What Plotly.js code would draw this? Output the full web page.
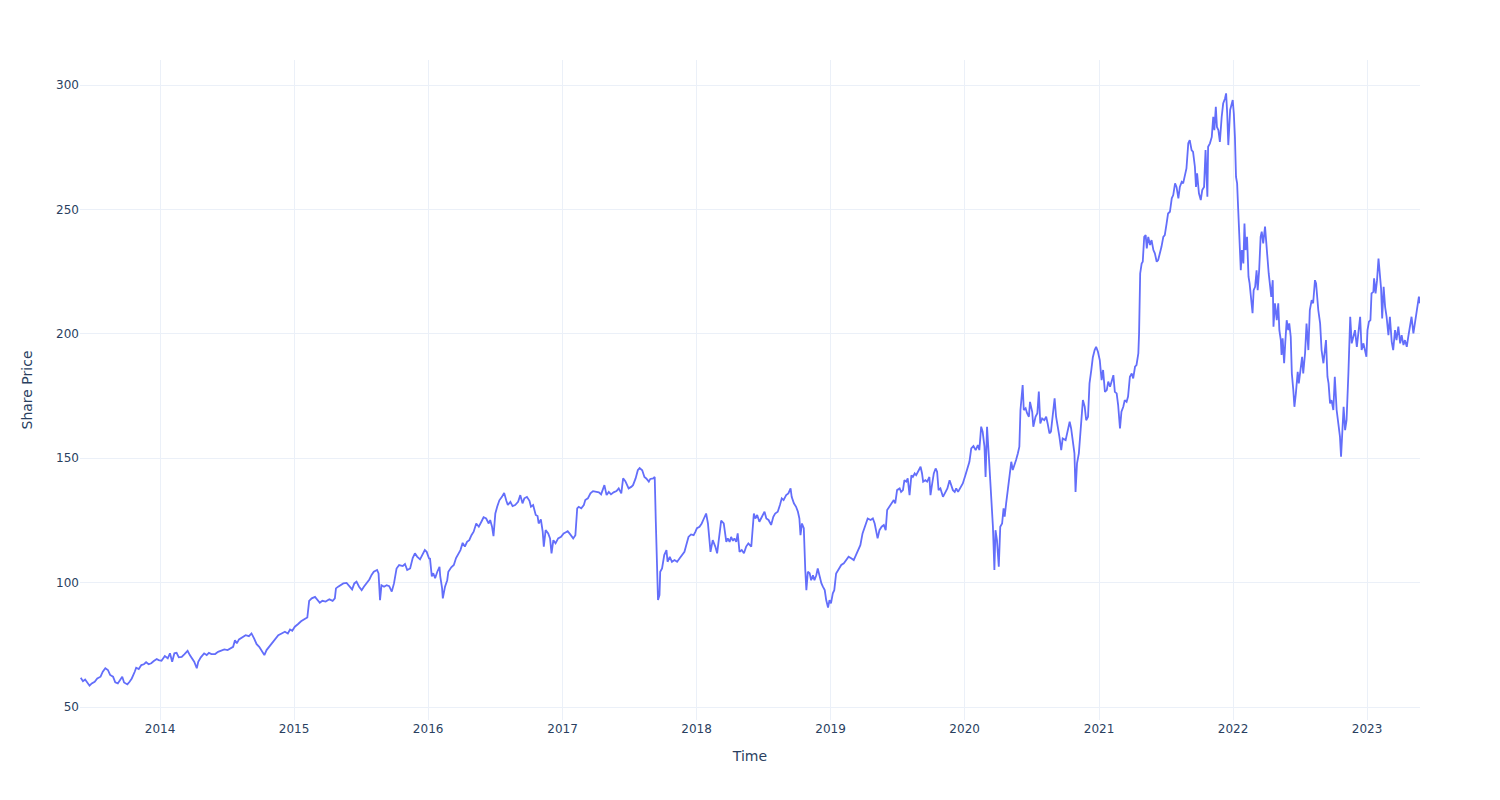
<!DOCTYPE html>
<html>
<head>
<meta charset="utf-8">
<script src="https://cdn.plot.ly/plotly-3.0.1.min.js"></script>
<style>html,body{margin:0;padding:0;background:#fff;}#chart{width:1500px;height:800px;}</style>
</head>
<body>
<div id="chart"></div>
<script>
const dates = [
"2013-05-30","2013-06-05","2013-06-11","2013-06-17","2013-06-23","2013-06-29","2013-07-07","2013-07-14","2013-07-23","2013-07-29",
"2013-08-05","2013-08-12","2013-08-18","2013-08-26","2013-09-01","2013-09-08","2013-09-16","2013-09-20","2013-09-25","2013-10-04",
"2013-10-10","2013-10-16","2013-10-24","2013-10-28","2013-11-04","2013-11-11","2013-11-18","2013-11-24","2013-12-01","2013-12-08",
"2013-12-15","2013-12-23","2013-12-28",
"2014-01-05","2014-01-14","2014-01-22","2014-01-28","2014-02-03","2014-02-09","2014-02-15","2014-02-21","2014-03-01","2014-03-08",
"2014-03-17","2014-03-23","2014-03-30","2014-04-04","2014-04-11","2014-04-15","2014-04-22","2014-05-01","2014-05-08","2014-05-14",
"2014-05-21","2014-05-31","2014-06-08","2014-06-16","2014-06-25","2014-07-04","2014-07-13","2014-07-19","2014-07-24","2014-07-29",
"2014-08-04","2014-08-13","2014-08-22","2014-08-31","2014-09-07","2014-09-14","2014-09-21","2014-09-28","2014-10-05","2014-10-12",
"2014-10-18","2014-10-25","2014-11-01","2014-11-10","2014-11-19","2014-11-28","2014-12-07","2014-12-15","2014-12-21","2014-12-27",
"2015-01-03","2015-01-12","2015-01-20","2015-01-31","2015-02-06","2015-02-11","2015-02-18","2015-02-27","2015-03-05","2015-03-12",
"2015-03-19","2015-03-28","2015-04-07","2015-04-16","2015-04-22","2015-04-25","2015-05-01","2015-05-08","2015-05-15","2015-05-24",
"2015-06-02","2015-06-08","2015-06-14","2015-06-20","2015-06-27","2015-07-04","2015-07-10","2015-07-17","2015-07-25","2015-07-31",
"2015-08-06","2015-08-15","2015-08-19","2015-08-23","2015-08-27","2015-09-03","2015-09-10","2015-09-17","2015-09-24","2015-09-30",
"2015-10-07","2015-10-14","2015-10-24","2015-10-30","2015-11-05","2015-11-13","2015-11-20","2015-11-26","2015-12-02","2015-12-10",
"2015-12-17","2015-12-23","2015-12-28",
"2016-01-04","2016-01-06","2016-01-11","2016-01-15","2016-01-20","2016-01-26","2016-02-01","2016-02-03","2016-02-08","2016-02-10",
"2016-02-16","2016-02-22","2016-02-25","2016-03-04","2016-03-11","2016-03-17","2016-03-23","2016-03-29","2016-04-04","2016-04-10",
"2016-04-16","2016-04-22","2016-04-28","2016-05-04","2016-05-11","2016-05-18","2016-05-25","2016-05-31","2016-06-07","2016-06-14",
"2016-06-18","2016-06-23","2016-06-27","2016-07-02","2016-07-07","2016-07-13","2016-07-20","2016-07-26","2016-08-01","2016-08-05",
"2016-08-12","2016-08-18","2016-08-25","2016-09-02","2016-09-08","2016-09-14","2016-09-19","2016-09-26","2016-10-03","2016-10-07",
"2016-10-13","2016-10-20","2016-10-25","2016-10-28","2016-11-03","2016-11-08","2016-11-11","2016-11-16","2016-11-23","2016-11-28",
"2016-12-02","2016-12-07","2016-12-13","2016-12-20","2016-12-28",
"2017-01-04","2017-01-09","2017-01-15","2017-01-22","2017-01-30","2017-02-05","2017-02-10","2017-02-14","2017-02-21","2017-02-28",
"2017-03-04","2017-03-11","2017-03-18","2017-03-25","2017-04-03","2017-04-10","2017-04-16","2017-04-22","2017-04-25","2017-05-01",
"2017-05-07","2017-05-13","2017-05-20","2017-05-28","2017-06-03","2017-06-10","2017-06-15","2017-06-21","2017-06-26","2017-06-30",
"2017-07-07","2017-07-12","2017-07-19","2017-07-25","2017-07-30","2017-08-06","2017-08-12","2017-08-17","2017-08-24","2017-08-28",
"2017-09-05","2017-09-09","2017-09-12","2017-09-14","2017-09-16","2017-09-18","2017-09-22","2017-09-24","2017-09-29","2017-10-05",
"2017-10-11","2017-10-14","2017-10-20","2017-10-26","2017-11-02","2017-11-09","2017-11-16","2017-11-22","2017-11-29","2017-12-04",
"2017-12-10","2017-12-17","2017-12-24","2017-12-29",
"2018-01-02","2018-01-09","2018-01-15","2018-01-21","2018-01-27","2018-02-01","2018-02-05","2018-02-08","2018-02-14","2018-02-21",
"2018-02-26","2018-03-04","2018-03-09","2018-03-16","2018-03-23","2018-03-27","2018-04-01","2018-04-05","2018-04-10","2018-04-14",
"2018-04-19","2018-04-23","2018-04-28","2018-05-04","2018-05-10","2018-05-16","2018-05-22","2018-05-30","2018-06-03","2018-06-06",
"2018-06-10","2018-06-15","2018-06-21","2018-06-28","2018-07-05","2018-07-10","2018-07-16","2018-07-23","2018-07-29","2018-08-03",
"2018-08-10","2018-08-16","2018-08-21","2018-08-26","2018-09-02","2018-09-08","2018-09-14","2018-09-17","2018-09-23","2018-09-29",
"2018-10-04","2018-10-08","2018-10-11","2018-10-15","2018-10-20","2018-10-24","2018-10-27","2018-10-31","2018-11-05","2018-11-09",
"2018-11-14","2018-11-18","2018-11-23","2018-11-27","2018-12-02","2018-12-07","2018-12-11","2018-12-16","2018-12-20","2018-12-25",
"2018-12-29",
"2019-01-02","2019-01-07","2019-01-11","2019-01-16","2019-01-22","2019-01-30","2019-02-06","2019-02-12","2019-02-19","2019-02-26",
"2019-03-05","2019-03-11","2019-03-18","2019-03-23","2019-03-29","2019-04-05","2019-04-12","2019-04-20","2019-04-26","2019-05-01",
"2019-05-05","2019-05-09","2019-05-14","2019-05-20","2019-05-26","2019-05-31","2019-06-04","2019-06-10","2019-06-17","2019-06-22",
"2019-06-26","2019-07-01","2019-07-08","2019-07-12","2019-07-17","2019-07-21","2019-07-26","2019-07-30","2019-08-04","2019-08-09",
"2019-08-13","2019-08-18","2019-08-22","2019-08-29","2019-09-03","2019-09-07","2019-09-10","2019-09-16","2019-09-21","2019-09-27",
"2019-09-30","2019-10-04","2019-10-09","2019-10-14","2019-10-18","2019-10-22","2019-10-27","2019-11-03","2019-11-09","2019-11-15",
"2019-11-21","2019-11-26","2019-11-30","2019-12-05","2019-12-09","2019-12-14","2019-12-21","2019-12-27",
"2020-01-03","2020-01-10","2020-01-14","2020-01-19","2020-01-25","2020-01-31","2020-02-06","2020-02-10","2020-02-15","2020-02-19",
"2020-02-24","2020-02-27","2020-03-02","2020-03-07","2020-03-11","2020-03-14","2020-03-18","2020-03-22","2020-03-25","2020-03-29",
"2020-04-03","2020-04-07","2020-04-12","2020-04-16","2020-04-19","2020-04-23","2020-04-28","2020-05-02","2020-05-07","2020-05-11",
"2020-05-16","2020-05-20","2020-05-25","2020-05-29","2020-06-01","2020-06-04","2020-06-07","2020-06-10","2020-06-15","2020-06-19",
"2020-06-24","2020-06-27","2020-07-03","2020-07-06","2020-07-12","2020-07-17","2020-07-21","2020-07-25","2020-07-30","2020-08-05",
"2020-08-10","2020-08-14","2020-08-19","2020-08-23","2020-08-28","2020-09-02","2020-09-06","2020-09-11","2020-09-15","2020-09-20",
"2020-09-24","2020-10-02","2020-10-08","2020-10-13","2020-10-17","2020-10-22","2020-10-26","2020-10-29","2020-11-02","2020-11-07",
"2020-11-14","2020-11-18","2020-11-23","2020-11-27","2020-12-02","2020-12-06","2020-12-11","2020-12-15","2020-12-20","2020-12-24",
"2020-12-29",
"2021-01-03","2021-01-08","2021-01-12","2021-01-17","2021-01-22","2021-01-26","2021-01-31","2021-02-04","2021-02-09","2021-02-13",
"2021-02-18","2021-02-22","2021-02-27","2021-03-03","2021-03-08","2021-03-12","2021-03-17","2021-03-21","2021-03-26","2021-03-31",
"2021-04-04","2021-04-09","2021-04-13","2021-04-18","2021-04-20","2021-04-23","2021-04-27","2021-04-30","2021-05-04","2021-05-08",
"2021-05-11","2021-05-15","2021-05-20","2021-05-24","2021-05-29","2021-06-02","2021-06-07","2021-06-11","2021-06-16","2021-06-20",
"2021-06-25","2021-06-29","2021-07-04","2021-07-08","2021-07-13","2021-07-18","2021-07-22","2021-07-27","2021-07-31","2021-08-05",
"2021-08-09","2021-08-14","2021-08-18","2021-08-23","2021-08-27","2021-09-01","2021-09-05","2021-09-10","2021-09-14","2021-09-19",
"2021-09-22","2021-09-25","2021-09-30","2021-10-05","2021-10-09","2021-10-14","2021-10-18","2021-10-23","2021-10-25","2021-10-30",
"2021-11-04","2021-11-08","2021-11-11","2021-11-15","2021-11-18","2021-11-22","2021-11-26","2021-12-01","2021-12-05","2021-12-10",
"2021-12-13","2021-12-16","2021-12-19","2021-12-24","2021-12-28","2021-12-31",
"2022-01-03","2022-01-06","2022-01-09","2022-01-12","2022-01-15","2022-01-18","2022-01-22","2022-01-25","2022-01-29","2022-02-01",
"2022-02-04","2022-02-08","2022-02-12","2022-02-15","2022-02-19","2022-02-23","2022-02-26","2022-03-02","2022-03-06","2022-03-09",
"2022-03-13","2022-03-17","2022-03-20","2022-03-24","2022-03-29","2022-04-01","2022-04-04","2022-04-08","2022-04-11","2022-04-15",
"2022-04-19","2022-04-21","2022-04-25","2022-04-30","2022-05-04","2022-05-07","2022-05-11","2022-05-13","2022-05-16","2022-05-20",
"2022-05-23","2022-05-27","2022-05-31","2022-06-03","2022-06-07","2022-06-10","2022-06-14","2022-06-17","2022-06-21","2022-06-23",
"2022-06-26","2022-06-29","2022-07-04","2022-07-08","2022-07-11","2022-07-16","2022-07-20","2022-07-25","2022-07-29","2022-08-03",
"2022-08-07","2022-08-12","2022-08-15","2022-08-18","2022-08-21","2022-08-26","2022-08-30","2022-09-04","2022-09-08","2022-09-11",
"2022-09-15","2022-09-18","2022-09-22","2022-09-26","2022-10-01","2022-10-05","2022-10-10","2022-10-15","2022-10-19","2022-10-22",
"2022-10-25","2022-10-29","2022-11-02","2022-11-06","2022-11-11","2022-11-13","2022-11-16","2022-11-20","2022-11-24","2022-11-29",
"2022-12-04","2022-12-08","2022-12-13","2022-12-17","2022-12-22","2022-12-26","2022-12-30",
"2023-01-02","2023-01-06","2023-01-10","2023-01-13","2023-01-18","2023-01-20","2023-01-24","2023-01-28","2023-02-01","2023-02-04",
"2023-02-08","2023-02-11","2023-02-15","2023-02-19","2023-02-23","2023-02-28","2023-03-04","2023-03-09","2023-03-13","2023-03-18",
"2023-03-22","2023-03-27","2023-04-01","2023-04-05","2023-04-10","2023-04-14","2023-04-19","2023-04-23","2023-04-28","2023-05-02",
"2023-05-07","2023-05-11","2023-05-16","2023-05-20","2023-05-22","2023-05-25"
];

const prices = [
61.8,60.4,61.1,59.9,58.6,59.5,60.2,61.5,62.2,64.2,
65.6,64.9,62.9,62.2,59.9,59.5,61.5,62.2,59.9,59.1,
60.2,61.5,64.2,65.8,65.3,66.9,67.2,68.0,67.2,67.6,
68.5,69.3,68.9,
68.6,70.5,69.6,71.6,68.2,71.6,71.8,70.0,70.2,71.2,
72.6,70.9,69.2,68.2,65.6,68.2,70.0,71.6,70.9,71.8,
71.3,71.3,72.2,72.6,73.2,72.9,73.8,74.2,76.9,75.6,
77.2,78.2,78.9,78.5,79.6,77.6,75.3,74.2,72.6,70.9,
72.9,74.2,75.6,77.2,78.9,79.6,80.3,79.6,81.2,80.7,
82.3,83.4,84.5,85.5,86.0,92.7,93.7,94.3,93.3,91.9,
92.7,92.4,93.3,92.7,93.7,97.7,98.4,99.0,99.7,99.9,
98.4,97.3,99.7,100.4,98.4,97.0,98.4,99.7,101.3,103.1,
104.4,105.1,103.7,93.0,99.0,98.4,99.0,98.6,96.4,99.7,
105.7,107.1,106.7,107.5,105.1,105.7,109.9,111.8,110.5,109.4,
111.8,113.1,112.4,
109.5,109.9,102.5,103.8,101.8,104.4,106.4,102.5,97.8,93.7,
98.4,101.0,104.4,106.2,107.1,109.9,111.8,113.1,116.0,114.5,
116.4,117.1,119.1,120.5,123.8,122.5,124.5,126.3,125.8,123.8,
125.2,122.5,118.7,127.8,130.5,133.1,134.5,136.1,132.9,131.2,
132.5,130.8,131.2,132.5,135.2,131.9,133.9,134.5,132.9,130.5,
131.2,127.2,126.8,123.8,125.4,120.5,114.5,121.1,119.8,117.8,
111.8,117.1,115.8,117.8,118.4,
119.8,120.2,120.7,119.4,117.8,119.1,129.9,130.5,129.9,131.2,
133.2,133.9,135.9,136.8,136.5,136.3,135.5,137.9,139.2,135.2,
136.5,135.5,136.3,136.8,137.9,135.9,141.9,140.8,139.2,137.9,
138.5,139.2,141.9,145.2,146.1,145.2,142.5,141.9,140.6,141.7,
141.9,142.5,124.5,115.1,97.7,93.0,95.0,104.4,105.7,111.1,
113.1,108.4,110.4,108.4,109.1,108.4,109.8,111.1,112.4,115.1,
118.4,119.4,119.1,120.5,
121.9,122.5,123.8,125.8,127.8,123.8,117.8,112.4,117.1,114.5,
111.8,119.8,124.9,123.8,116.4,117.8,116.4,118.4,116.8,117.8,
116.4,119.8,112.4,113.1,111.8,114.5,115.8,114.5,122.5,127.8,
125.8,127.2,124.5,126.5,128.5,125.8,125.2,123.2,126.5,127.8,
128.5,131.2,133.9,133.2,135.2,135.9,137.9,134.5,131.9,130.5,
128.5,125.8,119.1,123.8,121.9,105.1,97.0,104.4,103.8,101.0,
103.0,101.0,103.0,105.7,102.5,99.7,98.4,97.0,93.0,90.0,
93.0,
91.7,95.7,97.0,103.7,105.1,107.1,107.8,109.1,110.4,109.8,
109.1,111.1,113.8,115.1,119.8,123.2,125.8,125.2,125.8,123.8,
121.1,117.8,121.1,122.5,123.2,121.1,129.2,130.5,132.5,133.2,
131.9,137.2,137.9,136.5,137.2,141.2,140.6,141.9,135.2,143.2,
142.5,143.9,143.2,145.2,146.6,143.9,140.6,141.2,140.6,142.5,
135.2,139.2,143.9,145.9,144.6,137.2,137.9,134.5,136.5,137.9,
141.2,139.2,137.2,136.5,137.9,136.5,138.5,139.9,
143.2,147.3,148.6,154.0,154.9,153.3,155.3,153.3,162.7,160.7,
154.7,142.5,162.7,150.6,141.2,134.5,122.5,105.1,121.1,117.1,
106.4,122.5,123.8,129.9,126.5,131.9,138.6,142.5,148.6,145.3,
147.3,149.3,152.0,154.7,169.4,176.1,179.4,169.4,170.1,168.1,
166.7,172.7,168.7,162.7,166.7,168.1,176.8,164.0,166.0,165.3,
166.7,164.0,160.0,160.7,167.4,174.1,166.7,162.7,158.7,153.3,
158.0,157.3,161.3,164.7,162.0,157.3,152.0,136.5,148.0,152.0,
164.0,173.4,170.7,165.3,166.7,180.1,185.5,190.5,193.5,194.8,
192.8,
189.5,181.4,185.5,176.7,177.4,180.8,178.8,180.8,183.4,176.7,
176.1,171.4,162.0,168.7,170.7,173.4,172.7,174.8,182.8,184.1,
182.1,186.8,187.5,192.2,200.2,224.3,228.3,229.0,239.0,239.7,
234.4,239.0,235.7,237.7,233.7,232.4,229.0,229.7,232.4,235.0,
239.0,239.7,244.4,248.4,249.1,254.5,255.8,260.5,259.1,254.5,
259.1,261.1,260.5,264.5,266.5,276.6,277.9,273.9,273.2,267.2,
259.1,264.5,256.5,253.8,257.8,259.1,273.9,255.1,275.2,276.6,
279.2,287.3,281.9,291.3,283.2,281.9,277.2,287.3,292.6,294.6,
296.7,288.6,275.9,290.0,292.6,294.0,
288.6,279.2,263.1,260.5,249.8,241.7,225.6,233.7,228.3,244.4,
233.7,239.0,223.0,220.3,212.3,208.3,217.6,218.9,225.6,217.6,
225.6,239.0,241.1,236.4,243.1,236.4,233.7,224.3,220.3,214.9,
221.6,202.9,212.3,205.5,212.3,201.5,197.5,191.5,198.2,188.2,
196.2,205.5,201.5,204.2,198.8,184.1,177.4,170.7,176.1,180.1,
184.8,180.1,186.2,190.8,184.1,192.2,204.2,193.5,209.6,213.6,
212.3,221.6,220.3,214.9,209.6,204.2,193.5,188.2,193.5,197.5,
182.8,180.1,172.1,173.4,169.4,182.8,169.4,164.0,158.7,150.6,
158.7,170.7,161.3,165.3,184.1,196.2,206.9,196.2,198.8,201.5,
194.8,201.5,206.9,193.5,196.2,193.5,190.8,
201.5,204.9,205.5,216.3,216.9,222.3,216.3,221.6,230.3,224.3,
218.3,206.2,218.9,210.9,206.9,199.5,206.9,196.8,193.5,201.5,
197.5,202.9,196.2,199.5,195.5,197.5,194.8,198.8,202.9,206.9,
200.2,204.2,208.9,214.9,215.0,212.3
];

const xTitle = "Time";
const yTitle = "Share Price";

const trace = {
  x: dates,
  y: prices,
  type: "scatter",
  mode: "lines",
  line: {color: "#636efa", width: 1.8},
  name: yTitle
};

const gridC = "#EBF0F8";
const layout = {
  width: 1500,
  height: 800,
  paper_bgcolor: "#ffffff",
  plot_bgcolor: "#ffffff",
  font: {family: '"DejaVu Sans", verdana, arial, sans-serif', size: 12, color: "#2a3f5f"},
  margin: {l: 80, r: 80, t: 60, b: 80},
  showlegend: false,
  xaxis: {
    type: "date",
    range: ["2013-05-28", "2023-05-25"],
    title: {text: xTitle, font: {size: 14}, standoff: 16},
    gridcolor: gridC,
    zerolinecolor: gridC,
    showline: false,
    ticks: "",
    dtick: "M12",
    tick0: "2014-01-01",
    tickformat: "%Y",
    automargin: true
  },
  yaxis: {
    range: [44.8, 310.1],
    title: {text: yTitle, font: {size: 14}, standoff: 20},
    gridcolor: gridC,
    zerolinecolor: gridC,
    showline: false,
    ticks: "",
    dtick: 50,
    tick0: 0,
    automargin: true
  }
};

Plotly.newPlot("chart", [trace], layout, {displayModeBar: false, responsive: false});
</script>
</body>
</html>
